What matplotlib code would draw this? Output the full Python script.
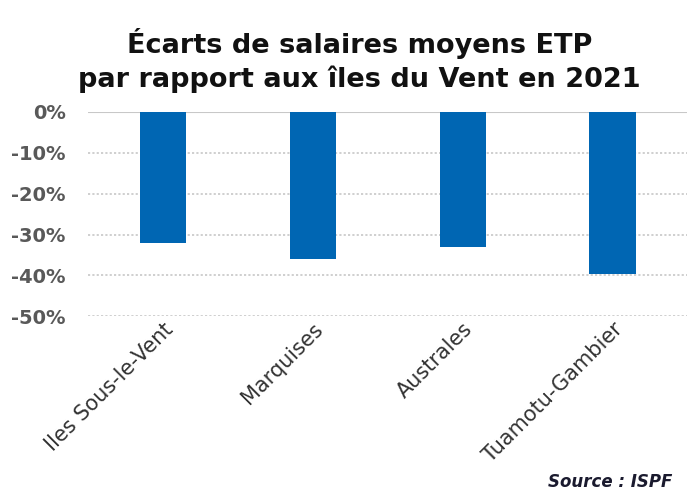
import matplotlib
matplotlib.use("Agg")
import matplotlib.pyplot as plt
from matplotlib.ticker import FuncFormatter

# data
regions = ["Iles Sous-le-Vent", "Marquises", "Australes", "Tuamotu-Gambier"]
ecarts = [-32, -36, -33, -39.7]
yticks = [0, -10, -20, -30, -40, -50]

BLUE = "#0066b3"
GREY = "#595959"

fig = plt.figure(figsize=(6.87, 4.91), dpi=100)
ax = fig.add_axes([0.128, 0.356, 0.873, 0.416])

ax.bar(regions, ecarts, width=0.31, color=BLUE, zorder=3)
ax.set_ylim(-50, 0)
ax.set_xlim(-0.5, len(regions) - 0.5)
ax.set_yticks(yticks)
ax.yaxis.set_major_formatter(FuncFormatter(lambda v, _: f"{v:.0f}%"))
for lab in ax.get_yticklabels():
    lab.set_fontweight("bold")
ax.tick_params(axis="y", labelsize=14, colors=GREY, length=0, pad=16)
ax.tick_params(axis="x", length=0, labelsize=15, labelcolor="#333333", pad=2)
plt.setp(ax.get_xticklabels(), rotation=45, ha="right", rotation_mode="anchor")

ax.set_axisbelow(True)
for y in yticks[1:]:
    ax.axhline(y, color="#cccccc", lw=1.3, ls=(0, (1.2, 1.2)), zorder=1)
ax.axhline(0, color="#c8c8c8", lw=1.5, zorder=2)
for s in ax.spines.values():
    s.set_visible(False)

fig.text(0.523, 0.877, "Écarts de salaires moyens ETP\npar rapport aux îles du Vent en 2021",
         ha="center", va="center", fontsize=19.5, fontweight="bold", color="#111111",
         linespacing=1.3)
fig.text(0.978, 0.0, "Source : ISPF", ha="right", va="bottom", fontsize=12,
         fontweight="bold", fontstyle="italic", color="#1a1a2e")

fig.savefig("out.png", dpi=100)
